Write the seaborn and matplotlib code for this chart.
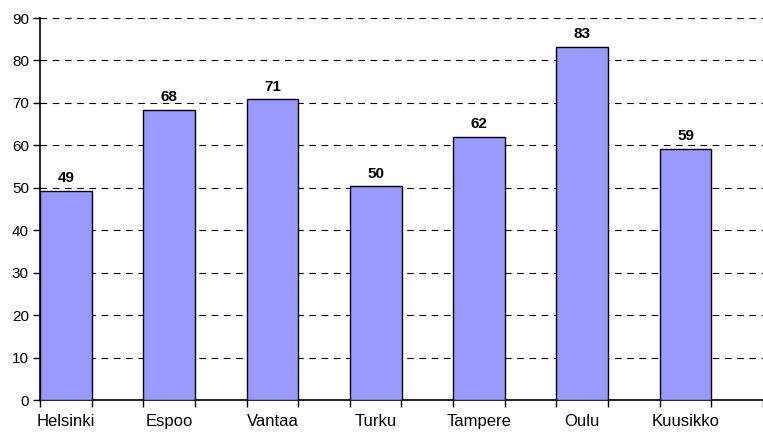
import numpy as np
import pandas as pd
import matplotlib.pyplot as plt
import seaborn as sns

cities = ['Helsinki', 'Espoo', 'Vantaa', 'Turku', 'Tampere', 'Oulu', 'Kuusikko']
values = [49.3, 68.4, 70.8, 50.4, 62.0, 83.2, 59.2]

sns.set_style('white')
plt.rcParams['font.family'] = ['Liberation Sans', 'DejaVu Sans']
plt.rcParams['text.color'] = 'black'
plt.rcParams['xtick.color'] = 'black'
plt.rcParams['ytick.color'] = 'black'

df = pd.DataFrame({'city': cities, 'value': values})

fig = plt.figure(figsize=(7.63, 4.32), dpi=100)
ax = fig.add_axes([40 / 763, 32 / 432, 723 / 763, 382 / 432])

sns.barplot(data=df, x='city', y='value', color='#9999FF', saturation=1,
            width=0.5, edgecolor='black', linewidth=1, ax=ax, zorder=3)

# value labels on top of bars
for i, v in enumerate(values):
    ax.annotate(f'{v:.0f}', (i, v), xytext=(0, 4), textcoords='offset points',
                ha='center', va='bottom', fontsize=11, fontweight='bold', color='black')

ax.set_ylim(0, 90)
ax.set_xlim(-0.25, -0.25 + 723 / 104.5)
ax.set_yticks(np.arange(0, 91, 10))
ax.yaxis.grid(True, color='black', linestyle=(0, (6, 5)), linewidth=0.8, zorder=0)
ax.xaxis.grid(False)

# category labels via minor ticks, tick marks at bar edges
n = len(cities)
ax.set_xticks(np.arange(n), minor=True)
ax.set_xticklabels(cities, minor=True)
ax.set_xticks(np.arange(-0.25, n, 0.5))
ax.set_xticklabels([])
ax.tick_params(axis='x', which='minor', length=0, pad=10, labelsize=12)
ax.tick_params(axis='x', which='major', length=5, width=1, direction='out', color='black')
ax.tick_params(axis='y', length=5, width=1, direction='out', color='black', labelsize=11, pad=3)
ax.tick_params(bottom=True, left=True)

ax.set_xlabel('')
ax.set_ylabel('')
for s in ['top', 'right']:
    ax.spines[s].set_visible(False)
for s in ['left', 'bottom']:
    ax.spines[s].set_color('black')
    ax.spines[s].set_linewidth(1.2)

fig.savefig('out.png', dpi=100)
